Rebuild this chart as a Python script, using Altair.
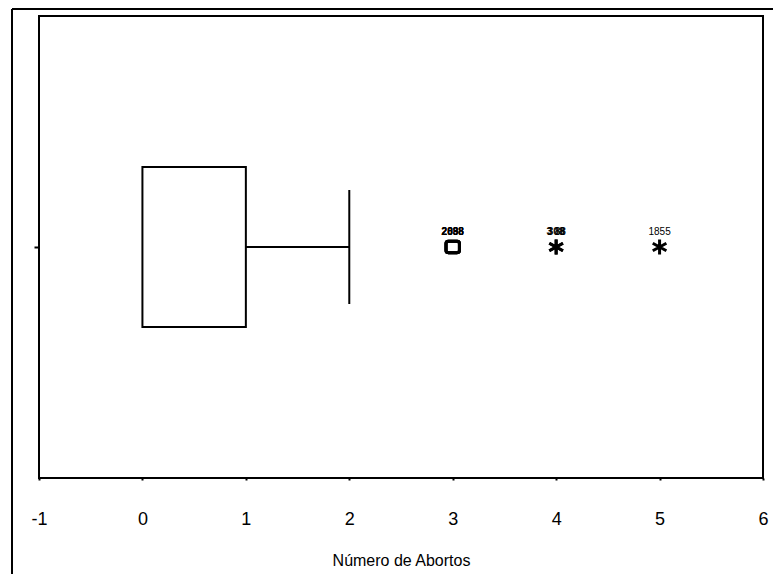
import altair as alt
import pandas as pd

# Box-plot summary values
q1 = [0]
median = [0]
q3 = [1]
whisker_low = [0]
whisker_high = [2]

# Outliers: position, kind and case labels
out_x = [3, 3, 3, 4, 4, 5]
out_kind = ["circle", "circle", "circle", "star", "star", "star"]
out_label = ["2038", "2088", "2898", "308", "3 88", "1855"]
out_bold = [True, True, True, True, True, False]

x_ticks = [-1, 0, 1, 2, 3, 4, 5, 6]

cat = "Abortos"
box_df = pd.DataFrame({"cat": [cat], "q1": q1, "med": median, "q3": q3,
                       "lo": whisker_low, "hi": whisker_high})
out_df = pd.DataFrame({"cat": cat, "x": out_x, "kind": out_kind,
                       "label": out_label, "bold": out_bold})

FONT = "Liberation Sans"
W, H = 724, 462

xscale = alt.Scale(domain=[-1, 6], nice=False, zero=False)
xaxis = alt.Axis(values=x_ticks, title="Número de Abortos", grid=False, domain=False,
                 tickSize=2, tickColor="black", tickWidth=2, labelFontSize=18,
                 labelColor="black", labelFont=FONT, labelPadding=30,
                 labelFlush=False, labelOverlap=False,
                 labelExpr="datum.value < 0 ? '-' + abs(datum.value) : '' + datum.value",
                 titleFont=FONT, titleFontSize=16, titleFontWeight="normal",
                 titleColor="black", titlePadding=24)
yaxis = alt.Axis(title=None, labels=False, ticks=True, tickSize=5, tickColor="black",
                 tickWidth=2, domain=False, grid=False)

base = alt.Chart(box_df)

box = base.mark_bar(size=160, fill="white", stroke="black", strokeWidth=2, opacity=1).encode(
    x=alt.X("q1:Q", scale=xscale, axis=xaxis),
    x2="q3:Q",
    y=alt.Y("cat:N", axis=yaxis),
)

whisker_hi = base.mark_rule(color="black", strokeWidth=2, opacity=1).encode(
    x="q3:Q", x2="hi:Q", y="cat:N")

cap = base.mark_tick(color="black", size=114, thickness=2, orient="vertical",
                     opacity=1).encode(x="hi:Q", y="cat:N")

star_path = "M0,-1L0,1M-0.9,-0.5L0.9,0.5M-0.9,0.5L0.9,-0.5"
rounded_sq = ("M-0.65,-0.85H0.65Q1,-0.85 1,-0.5V0.5Q1,0.85 0.65,0.85H-0.65"
              "Q-1,0.85 -1,0.5V-0.5Q-1,-0.85 -0.65,-0.85Z")

circ = alt.Chart(out_df).transform_filter(alt.datum.kind == "circle").mark_point(
    shape=rounded_sq, size=180, filled=False, stroke="black", strokeWidth=3, opacity=1
).encode(x="x:Q", y="cat:N")

star = alt.Chart(out_df).transform_filter(alt.datum.kind == "star").mark_point(
    shape=star_path, size=230, filled=False, stroke="black", strokeWidth=3, opacity=1
).encode(x="x:Q", y="cat:N")

labels_bold = alt.Chart(out_df).transform_filter(alt.datum.bold).mark_text(
    font=FONT, fontSize=10, color="black", dy=-15, fontWeight="bold"
).encode(x="x:Q", y="cat:N", text="label:N")

labels_thin = alt.Chart(out_df).transform_filter(~alt.datum.bold).mark_text(
    font=FONT, fontSize=10, color="black", dy=-15, fontWeight="normal"
).encode(x="x:Q", y="cat:N", text="label:N")

# Outer chart frame (top and left edges)
frame_top = alt.Chart(box_df).mark_rule(color="black", strokeWidth=2).encode(
    x=alt.value(-27), x2=alt.value(W + 40), y=alt.value(-7))
frame_left = alt.Chart(box_df).mark_rule(color="black", strokeWidth=2).encode(
    x=alt.value(-27), y=alt.value(-7), y2=alt.value(H + 120))

# Title sits above the outer frame, as in the reference (mostly cut off there too)
title = alt.Chart(box_df).mark_text(
    font=FONT, fontSize=17, fontWeight="bold", fontStyle="italic", color="black",
    baseline="alphabetic", align="center"
).encode(x=alt.value(W / 2), y=alt.value(-9),
         text=alt.value("Diagrama de Caja del Número de Abortos"))

chart = alt.layer(frame_top, frame_left, title, box, whisker_hi, cap, circ, star,
                  labels_bold, labels_thin).properties(
    width=W, height=H,
    background="white",
    autosize=alt.AutoSizeParams(type="none"),
    padding={"left": 31, "top": 8, "right": 10, "bottom": 96},
).configure_view(stroke="black", strokeWidth=2)

chart.save("out.html", embed_options={"renderer": "svg", "actions": False})
